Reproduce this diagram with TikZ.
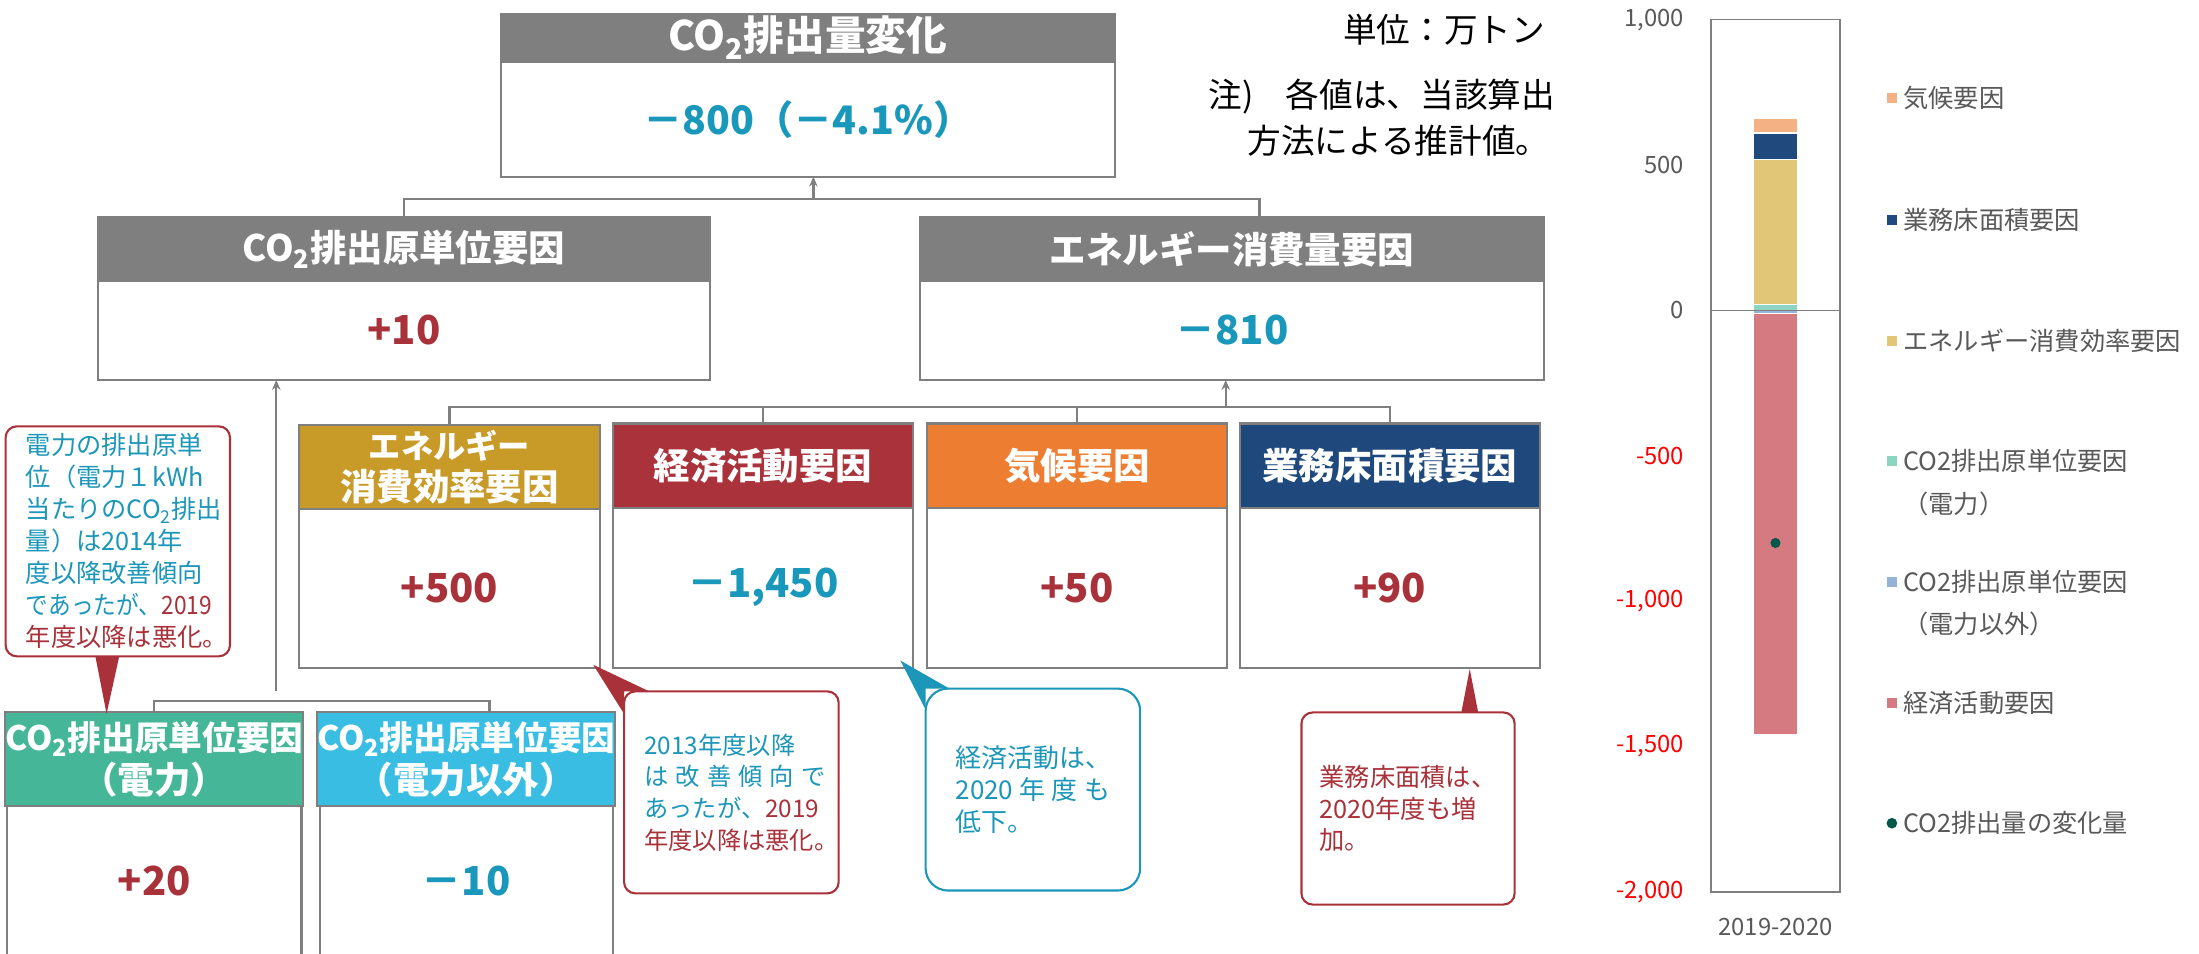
\documentclass[tikz,border=0pt]{standalone}
\usepackage{fontspec}
\setmainfont{Noto Sans CJK JP}
\usetikzlibrary{arrows.meta}
\definecolor{bgray}{HTML}{7F7F7F}
\definecolor{vblue}{HTML}{1A98BC}
\definecolor{vred}{HTML}{A9323A}
\definecolor{hgold}{HTML}{C89B29}
\definecolor{hred}{HTML}{AA333B}
\definecolor{horange}{HTML}{ED7D31}
\definecolor{hnavy}{HTML}{1F497D}
\definecolor{hgreen}{HTML}{45B697}
\definecolor{hcyan}{HTML}{3ABDE2}
\definecolor{cblue}{HTML}{1C96B9}
\definecolor{lgray}{HTML}{595959}
\definecolor{axred}{HTML}{FF0000}
\definecolor{bpeach}{HTML}{F4B183}
\definecolor{bnavy}{HTML}{204A7D}
\definecolor{bgold}{HTML}{E2C677}
\definecolor{bteal}{HTML}{8ED5C1}
\definecolor{blblue}{HTML}{95B3D7}
\definecolor{bpink}{HTML}{D67A82}
\definecolor{bdot}{HTML}{00584A}
\newcommand{\fsz}[2]{\fontsize{#1}{#2}\selectfont}
\newcommand{\cotwo}{CO\textsubscript{2}}
\newcommand{\spread}[2]{\leavevmode\hbox to #1{#2}}
\begin{document}
\begin{tikzpicture}[x=1pt,y=-1pt,
  hdr/.style={draw=bgray,line width=1.5pt,inner sep=0pt,outer sep=0pt,text=white,align=center,font=\bfseries\fsz{26}{30}},
  bodybox/.style={draw=bgray,line width=1.5pt,fill=white,inner sep=0pt,outer sep=0pt,font=\bfseries\fsz{28.5}{30}},
  conn/.style={draw=bgray,line width=1.6pt},
  arr/.style={conn,-{Stealth[length=7pt,width=6pt]}},
  callout/.style={line width=1.5pt,fill=white,inner sep=0pt,outer sep=0pt,align=left,font=\fsz{18.5}{22.6}},
  tick/.style={anchor=east,inner sep=0pt,font=\fsz{17}{19}},
  leg/.style={anchor=west,inner sep=0pt,text=lgray,font=\fsz{18}{20}},
  seg/.style={draw=white,line width=0.9pt},
  note/.style={anchor=east,inner sep=0pt,font=\fsz{24}{27}},
]
\clip (0,0) rectangle (1568,680);
\fill[white] (0,0) rectangle (1568,680);

% ---- top box
\node[bodybox,minimum width=438,minimum height=82] (topb) at (576,85) {\fsz{28}{32}\color{vblue}－800（－4.1\%）};
\node[hdr,fill=bgray,minimum width=438,minimum height=34] (toph) at (576,27) {\fsz{29}{32}\cotwo 排出量変化};

% ---- level 2
\node[bodybox,minimum width=436,minimum height=71] (l2ab) at (288,235.5) {\color{vred}+10};
\node[hdr,fill=bgray,minimum width=436,minimum height=45] (l2ah) at (288,177.5) {\cotwo 排出原単位要因};
\node[bodybox,minimum width=445,minimum height=71] (l2bb) at (878.5,235.5) {\color{vblue}－810};
\node[hdr,fill=bgray,minimum width=445,minimum height=45] (l2bh) at (878.5,177.5) {エネルギー消費量要因};

% ---- level 3
\node[bodybox,minimum width=215,minimum height=114] (l3ab) at (320.5,419) {\color{vred}+500};
\node[hdr,fill=hgold,minimum width=215,minimum height=60] (l3ah) at (320.5,333) {\fsz{23}{27.5}エネルギー\\消費効率要因};
\node[bodybox,minimum width=214,minimum height=114] (l3bb) at (544,419) {\color{vblue}－1,450};
\node[hdr,fill=hred,minimum width=214,minimum height=60] (l3bh) at (544,332) {経済活動要因};
\node[bodybox,minimum width=214,minimum height=114] (l3cb) at (768,419) {\color{vred}+50};
\node[hdr,fill=horange,minimum width=214,minimum height=60] (l3ch) at (768,332) {気候要因};
\node[bodybox,minimum width=214,minimum height=114] (l3db) at (991,419) {\color{vred}+90};
\node[hdr,fill=hnavy,minimum width=214,minimum height=60] (l3dh) at (991,332) {業務床面積要因};

% ---- level 4
\node[bodybox,minimum width=210,minimum height=106] (l4ab) at (110,628) {\color{vred}+20};
\node[hdr,fill=hgreen,minimum width=210,minimum height=67] (l4ah) at (110,541.5) {\fsz{24}{28}\cotwo 排出原単位要因\\（電力）};
\node[bodybox,minimum width=209,minimum height=106] (l4bb) at (332.5,628) {\color{vblue}－10};
\node[hdr,fill=hcyan,minimum width=209,minimum height=67] (l4bh) at (332.5,541.5) {\fsz{24}{28}\cotwo 排出原単位要因\\（電力以外）};

% ---- connectors
\coordinate (j0) at (580,142);
\coordinate (j1) at (898,142);
\draw[conn] (l2ah.north) |- (j1) -- (j1 |- l2bh.north);
\draw[arr] (j0) -- (j0 |- topb.south);

\coordinate (j2) at (874,290);
\draw[conn] (l3ah.north) |- (l3dh.north |- j2) -- (l3dh.north);
\draw[conn] (l3bh.north) -- (l3bh.north |- j2);
\draw[conn] (l3ch.north) -- (l3ch.north |- j2);
\draw[arr] (j2) -- (j2 |- l2bb.south);

\coordinate (j3) at (349,500);
\coordinate (j4) at (197,493);
\draw[conn] (l4ah.north) |- (j3) -- (j3 |- l4bh.north);
\draw[arr] (j4) -- (j4 |- l2ab.south);

% ---- callouts
\node[callout,draw=vred,rounded corners=8pt,minimum width=160,minimum height=164,text width=131,text=cblue,font=\fsz{18}{22.8}] (ca) at (84,386)
 {電力の排出原単\\位（電力１kWh\\当たりの\cotwo 排出\\量）は2014年\\度以降改善傾向\\\scalebox{0.9}[1]{であったが、\color{vred}2019}\\\color{vred}年度以降は悪化。};
\coordinate (tipA) at (76,509);
\fill[vred] ([xshift=-16pt]ca.south) -- ([xshift=1pt]ca.south) -- (tipA) -- cycle;

\node[callout,draw=vred,rounded corners=8pt,minimum width=153,minimum height=144,text width=124,text=cblue,font=\fsz{17.3}{22.6}] (cb) at (521.5,565)
 {2013年度以降\\\spread{129pt}{は\hfil 改\hfil 善\hfil 傾\hfil 向\hfil で}\\あったが、\color{vred}2019\\年度以降は悪化。};
\coordinate (tipB) at (423,474);
\fill[vred] ([xshift=18pt]cb.north west) -- (cb.north west) -- ([yshift=-16pt]cb.north west) -- (tipB) -- cycle;

\node[callout,draw=cblue,rounded corners=16pt,minimum width=153,minimum height=144,text width=110,text=cblue] (cc) at (736.5,563)
 {経済活動は、\\\spread{110pt}{2020\hfil 年\hfil 度\hfil も}\\低下。};
\coordinate (tipC) at (642,471);
\fill[cblue] ([xshift=17pt]cc.north west) -- (cc.north west) -- ([yshift=-15pt]cc.north west) -- (tipC) -- cycle;

\node[callout,draw=vred,rounded corners=8pt,minimum width=152,minimum height=137,text width=126,text=vred,font=\fsz{18}{22.6}] (cd) at (1004,576.5)
 {業務床面積は、\\2020年度も増\\加。};
\coordinate (tipD) at (1048,477);
\fill[vred] ([xshift=38pt]cd.north) -- ([xshift=50pt]cd.north) -- (tipD) -- cycle;

% ---- notes
\node[note] (unit) at (1102,21) {単位：万トン};
\node[note] (note1) at (1109,69) {注)\hspace{23pt}各値は、当該算出};
\node[note] (note2) at (1105,100) {方法による推計値。};

% ---- chart
\filldraw[seg,fill=bpeach] (1250,84.46) rectangle (1282,94.83);
\filldraw[seg,fill=bnavy] (1250,94.83) rectangle (1282,113.49);
\filldraw[seg,fill=bgold] (1250,113.49) rectangle (1282,217.15);
\filldraw[seg,fill=bteal] (1250,217.15) rectangle (1282,221.3);
\filldraw[seg,fill=blblue] (1250,221.3) rectangle (1282,223.37);
\filldraw[seg,fill=bpink] (1250,223.37) rectangle (1282,524.0);
\draw[bgray,line width=1pt] (1220,14) rectangle (1312,636);
\draw[bgray,line width=1pt] (1220,221.3) -- (1312,221.3);
\fill[bdot] (1266,387.16) circle (3.6);

\node[tick,text=lgray] (t1) at (1201,14) {1,000};
\node[tick,text=lgray] (t2) at (1201,117.6) {500};
\node[tick,text=lgray] (t3) at (1201,221.3) {0};
\node[tick,text=axred] (t4) at (1201,325) {-500};
\node[tick,text=axred] (t5) at (1201,428.6) {-1,000};
\node[tick,text=axred] (t6) at (1201,532.3) {-1,500};
\node[tick,text=axred] (t7) at (1201,636) {-2,000};
\node[font=\fsz{17}{19},text=lgray,inner sep=0pt] (xlab) at (1266,661) {2019-2020};

\fill[bpeach] (1345.5,66.5) rectangle (1352.5,73.5);
\node[leg] (lg1) at (1357,70) {気候要因};
\fill[bnavy] (1345.5,153.5) rectangle (1352.5,160.5);
\node[leg] (lg2) at (1357,157) {業務床面積要因};
\fill[bgold] (1345.5,239.5) rectangle (1352.5,246.5);
\node[leg] (lg3) at (1357,243) {エネルギー消費効率要因};
\fill[bteal] (1345.5,325.5) rectangle (1352.5,332.5);
\node[leg] (lg4) at (1357,329) {CO2排出原単位要因};
\node[leg] (lg4b) at (1357,359) {（電力）};
\fill[blblue] (1345.5,411.5) rectangle (1352.5,418.5);
\node[leg] (lg5) at (1357,415) {CO2排出原単位要因};
\node[leg] (lg5b) at (1357,445) {（電力以外）};
\fill[bpink] (1345.5,497.5) rectangle (1352.5,504.5);
\node[leg] (lg6) at (1357,501) {経済活動要因};
\fill[bdot] (1349,587) circle (3.8);
\node[leg] (lg7) at (1357,587) {CO2排出量の変化量};
\end{tikzpicture}
\end{document}
